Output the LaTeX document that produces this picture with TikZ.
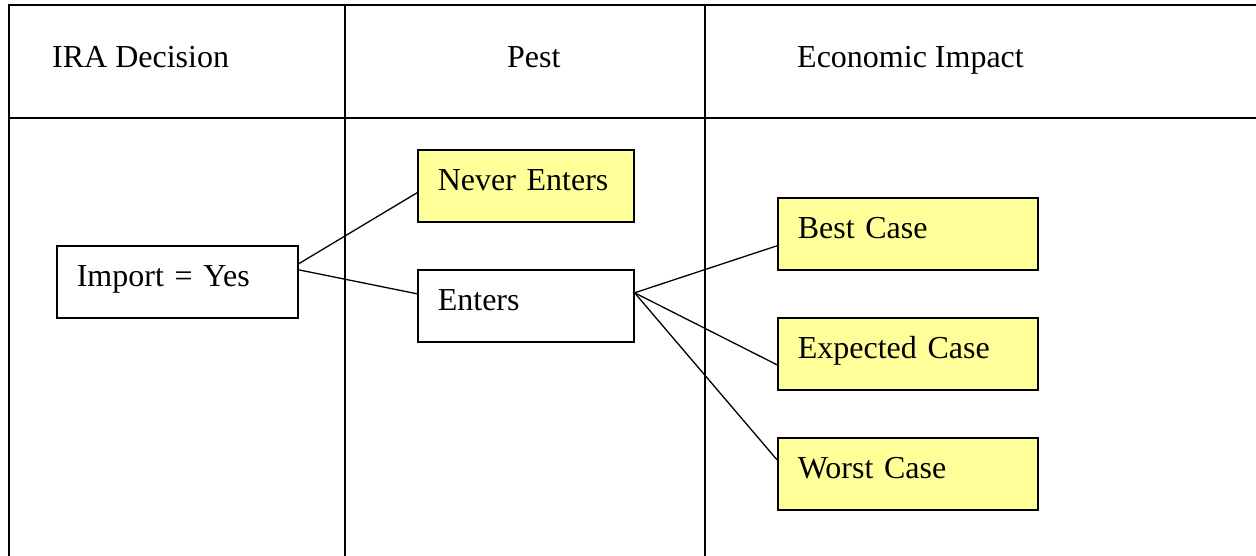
\documentclass[tikz,border=0pt]{standalone}
\usepackage{fontspec}
\setmainfont{Liberation Serif}
\definecolor{boxyellow}{HTML}{FFFF99}
\tikzset{
  gridline/.style={line width=2pt, line cap=rect},
  dbox/.style={draw, line width=1.6pt, rectangle, anchor=north west, minimum height=72pt,
    inner xsep=20pt, inner ysep=0pt, text height=21pt, text depth=11pt, align=left,
    font=\fontsize{32}{38}\selectfont},
  ybox/.style={dbox, fill=boxyellow},
  conn/.style={line width=1.3pt},
  hdr/.style={anchor=base west, inner sep=0pt, font=\fontsize{32}{38}\selectfont}
}
\begin{document}
\begin{tikzpicture}[x=1pt,y=-1pt]
\useasboundingbox (0,0) rectangle (1256,556);
% table grid
\coordinate (tl) at (9,5);
\coordinate (tr) at (1256,5);
\coordinate (ml) at (9,118);
\coordinate (mr) at (1256,118);
\coordinate (bl) at (9,556);
\coordinate (c1t) at (345,5);
\coordinate (c1b) at (345,556);
\coordinate (c2t) at (705,5);
\coordinate (c2b) at (705,556);
\draw[gridline] (tr) -- (tl) -- (bl);
\draw[gridline] (ml) -- (mr);
\draw[gridline] (c1t) -- (c1b);
\draw[gridline] (c2t) -- (c2b);
% headers
\node[hdr] (h1) at (52,68) {IRA Decision};
\node[hdr] (h2) at (507,68) {Pest};
\node[hdr] (h3) at (797,68) {Economic Impact};
% boxes
\node[dbox, minimum width=241pt, text width=201pt] (imp) at (56,245) {Import = Yes};
\node[ybox, minimum width=216pt, text width=176pt] (never) at (417,149) {Never Enters};
\node[dbox, minimum width=216pt, text width=176pt] (enters) at (417,269) {Enters};
\node[ybox, minimum width=260pt, text width=220pt] (best) at (777,197) {Best Case};
\node[ybox, minimum width=260pt, text width=220pt] (exp) at (777,317) {Expected Case};
\node[ybox, minimum width=260pt, text width=220pt] (worst) at (777,437) {Worst Case};
% connectors
\draw[conn] ([yshift=18pt]imp.east) -- ([yshift=-7pt]never.west);
\draw[conn] ([yshift=12pt]imp.east) -- ([yshift=12pt]enters.west);
\draw[conn] ([yshift=13pt]enters.east) -- ([yshift=-12pt]best.west);
\draw[conn] ([yshift=13pt]enters.east) -- ([yshift=-11pt]exp.west);
\draw[conn] ([yshift=13pt]enters.east) -- ([yshift=14pt]worst.west);
\end{tikzpicture}
\end{document}
